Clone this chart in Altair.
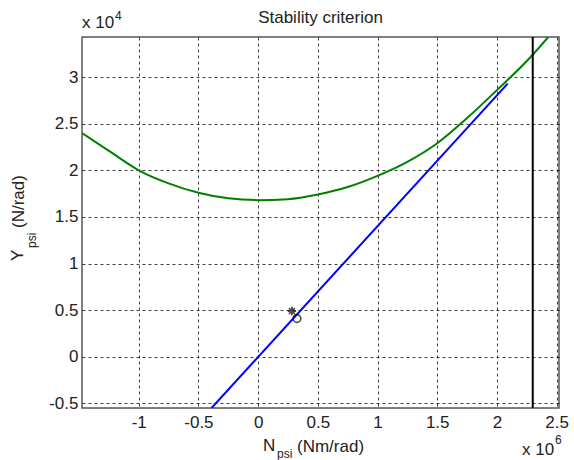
import altair as alt
import pandas as pd

# Values in axis units (x in 10^6 Nm/rad, y in 10^4 N/rad)
green_x = [-1.475, -1.24, -1.0, -0.75, -0.5, -0.25, 0.0, 0.25, 0.5, 0.75, 1.0, 1.25, 1.5, 1.75, 2.0, 2.3, 2.43]
green_y = [2.40, 2.20, 2.00, 1.86, 1.76, 1.70, 1.68, 1.69, 1.74, 1.82, 1.94, 2.09, 2.29, 2.56, 2.86, 3.24, 3.43]
blue_x = [-0.39, 2.09]
blue_y = [-0.55, 2.93]
limit_x = [2.30]
star_x = [0.283]
star_y = [0.49]
circle_x = [0.325]
circle_y = [0.41]
x_ticks = [-1, -0.5, 0, 0.5, 1, 1.5, 2, 2.5]
y_ticks = [-0.5, 0, 0.5, 1, 1.5, 2, 2.5, 3]
x_domain = [-1.475, 2.52]
y_domain = [-0.55, 3.43]

FONT = "Liberation Sans"

xs = alt.Scale(domain=x_domain, nice=False, zero=False)
ys = alt.Scale(domain=y_domain, nice=False, zero=False)

x_axis = alt.Axis(values=x_ticks, labelExpr="toString(datum.value)", title=None,
                  grid=True, domain=False, ticks=False, labelPadding=6,
                  labelFont=FONT, labelFontSize=17, labelColor="#222222")
y_axis = alt.Axis(values=y_ticks, labelExpr="toString(datum.value)", title=None,
                  grid=True, domain=False, ticks=False, labelPadding=4,
                  labelFont=FONT, labelFontSize=17, labelColor="#222222")

green_df = pd.DataFrame({"x": green_x, "y": green_y})
blue_df = pd.DataFrame({"x": blue_x, "y": blue_y})
limit_df = pd.DataFrame({"x": limit_x})
star_df = pd.DataFrame({"x": star_x, "y": star_y})
circle_df = pd.DataFrame({"x": circle_x, "y": circle_y})

base_grid = alt.Chart(green_df).mark_point(opacity=0).encode(
    x=alt.X("x:Q", scale=xs, axis=x_axis),
    y=alt.Y("y:Q", scale=ys, axis=y_axis),
)

green = alt.Chart(green_df).mark_line(color="#008000", strokeWidth=2, clip=True,
                                      interpolate="monotone").encode(
    x=alt.X("x:Q", scale=xs), y=alt.Y("y:Q", scale=ys), order=alt.Order("x:Q"))

blue = alt.Chart(blue_df).mark_line(color="#0000FF", strokeWidth=2, clip=True).encode(
    x=alt.X("x:Q", scale=xs), y=alt.Y("y:Q", scale=ys))

limit = alt.Chart(limit_df).mark_rule(color="black", strokeWidth=2).encode(
    x=alt.X("x:Q", scale=xs))

star_path = "M-1,0L1,0M0,-1L0,1M-0.7,-0.7L0.7,0.7M-0.7,0.7L0.7,-0.7"
star = alt.Chart(star_df).mark_point(shape=star_path, color="black", size=70,
                                     strokeWidth=1.8, filled=False).encode(
    x=alt.X("x:Q", scale=xs), y=alt.Y("y:Q", scale=ys))
circle = alt.Chart(circle_df).mark_point(shape="circle", color="black", size=60,
                                         strokeWidth=1.6, filled=False).encode(
    x=alt.X("x:Q", scale=xs), y=alt.Y("y:Q", scale=ys))

txt_df = pd.DataFrame({"a": [0]})


def label(text, x, y, size=17, angle=0, align="left"):
    return alt.Chart(txt_df).mark_text(
        text=text, font=FONT, fontSize=size, color="#222222",
        align=align, baseline="middle", angle=angle
    ).encode(x=alt.value(x), y=alt.value(y))


texts = [
    label("Stability criterion", 238.5, -19, size=17, align="center"),
    label("x 10", 0, -14),
    label("4", 33, -21, size=12),
    label("x 10", 440, 413),
    label("6", 473, 403, size=12),
    label("N", 181, 409),
    label("psi", 195, 417, size=12),
    label("(Nm/rad)", 215, 410),
    label("Y", -64, 224, angle=270),
    label("psi", -50, 211, size=12, angle=270),
    label("(N/rad)", -63, 191, angle=270),
]

chart = alt.layer(base_grid, green, blue, limit, star, circle, *texts).properties(
    width=477, height=371,
    autosize=alt.AutoSizeParams(type="none"),
    padding={"left": 82, "top": 37, "right": 15, "bottom": 52},
    background="white",
).configure_view(stroke="#555555", strokeWidth=1.5).configure_axis(
    gridColor="black", gridDash=[3, 3], gridOpacity=0.75, gridWidth=1
)

chart.save("out.html", embed_options={"renderer": "svg", "actions": False})
